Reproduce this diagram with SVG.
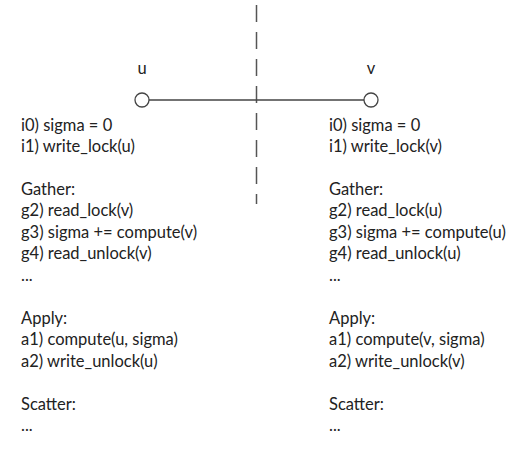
<svg xmlns="http://www.w3.org/2000/svg" width="523" height="449" viewBox="0 0 523 449">
<style>
text{font-family:Lato,"Open Sans","Liberation Sans",sans-serif;font-size:16.5px;fill:#222}
.node{fill:#fff;stroke:#444;stroke-width:1.3}
.edge{stroke:#444;stroke-width:1.3;fill:none}
.divider{stroke:#555;stroke-width:1.5;stroke-dasharray:17 10;fill:none}
</style>
<rect width="523" height="449" fill="#fff"/>
<g id="connectors">
<line class="divider" x1="256.5" y1="5" x2="256.5" y2="204"/>
<line class="edge" x1="149" y1="100" x2="364" y2="100"/>
</g>
<g id="node-u">
<circle class="node" cx="142" cy="100" r="7"/>
<text x="142" y="74" text-anchor="middle">u</text>
</g>
<g id="node-v">
<circle class="node" cx="371" cy="100" r="7"/>
<text x="371" y="74" text-anchor="middle">v</text>
</g>
<g id="text-u">
<text x="21" y="131">i0) sigma = 0</text>
<text x="21" y="152">i1) write_lock(u)</text>
<text x="21" y="195">Gather:</text>
<text x="21" y="216">g2) read_lock(v)</text>
<text x="21" y="238">g3) sigma += compute(v)</text>
<text x="21" y="259">g4) read_unlock(v)</text>
<text x="21" y="281">...</text>
<text x="21" y="324">Apply:</text>
<text x="21" y="345">a1) compute(u, sigma)</text>
<text x="21" y="367">a2) write_unlock(u)</text>
<text x="21" y="410">Scatter:</text>
<text x="21" y="431">...</text>
</g>
<g id="text-v">
<text x="329" y="131">i0) sigma = 0</text>
<text x="329" y="152">i1) write_lock(v)</text>
<text x="329" y="195">Gather:</text>
<text x="329" y="216">g2) read_lock(u)</text>
<text x="329" y="238">g3) sigma += compute(u)</text>
<text x="329" y="259">g4) read_unlock(u)</text>
<text x="329" y="281">...</text>
<text x="329" y="324">Apply:</text>
<text x="329" y="345">a1) compute(v, sigma)</text>
<text x="329" y="367">a2) write_unlock(v)</text>
<text x="329" y="410">Scatter:</text>
<text x="329" y="431">...</text>
</g>
</svg>
